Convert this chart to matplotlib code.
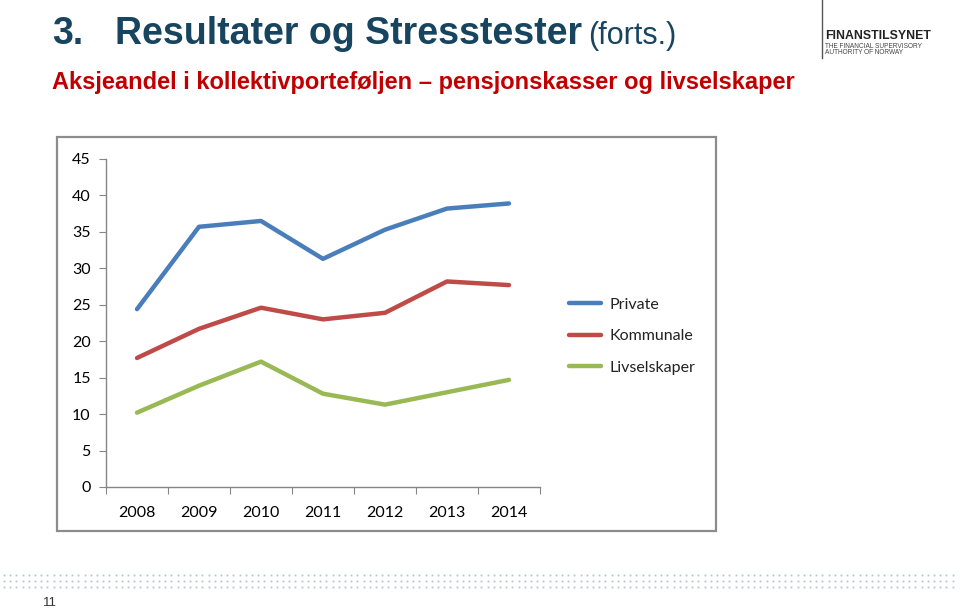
import matplotlib
matplotlib.use("Agg")
import matplotlib.pyplot as plt
from matplotlib.patches import Rectangle
from matplotlib.lines import Line2D

# === DATA ===
years = ["2008", "2009", "2010", "2011", "2012", "2013", "2014"]
private = [24.4, 35.7, 36.5, 31.3, 35.3, 38.2, 38.9]
kommunale = [17.7, 21.7, 24.6, 23.0, 23.9, 28.2, 27.7]
livselskaper = [10.2, 13.9, 17.2, 12.8, 11.3, 13.0, 14.7]
series_names = ["Private", "Kommunale", "Livselskaper"]
y_ticks = [0, 5, 10, 15, 20, 25, 30, 35, 40, 45]

colors = ["#4A7EBB", "#BE4B48", "#98B954"]
W, H = 960, 609

fig = plt.figure(figsize=(W / 100, H / 100), dpi=100)
fig.patch.set_facecolor("white")

def fx(px):
    return px / W

def fy(py):
    return 1 - py / H

# === HEADER ===
title_font = ["Liberation Sans", "DejaVu Sans"]
fig.text(fx(52), fy(34), "3.", fontsize=27, fontweight="bold", color="#17445E",
         family=title_font, va="center")
fig.text(fx(115), fy(34), "Resultater og Stresstester", fontsize=27, fontweight="bold",
         color="#17445E", family=title_font, va="center")
fig.text(fx(588), fy(36), "(forts.)", fontsize=22, color="#17445E",
         family=title_font, va="center")
fig.text(fx(52), fy(83), "Aksjeandel i kollektivporteføljen \u2013 pensjonskasser og livselskaper",
         fontsize=17, fontweight="bold", color="#C00000", family=title_font, va="center")

# logo
fig.add_artist(Line2D([fx(822), fx(822)], [fy(0), fy(58)], color="#555555", lw=1))
fig.text(fx(825), fy(36), "FINANSTILSYNET", fontsize=8.8, fontweight="bold", color="#222222",
         family=["Liberation Sans", "DejaVu Sans"], va="center")
fig.text(fx(825), fy(46), "THE FINANCIAL SUPERVISORY", fontsize=4.7, color="#444444",
         family=["Liberation Sans", "DejaVu Sans"], va="center")
fig.text(fx(825), fy(53), "AUTHORITY OF NORWAY", fontsize=4.7, color="#444444",
         family=["Liberation Sans", "DejaVu Sans"], va="center")

# chart frame
fig.add_artist(Rectangle((fx(57), fy(531)), fx(716 - 57), (531 - 137) / H,
                         fill=False, edgecolor="#8C8C8C", lw=1.6))

# === CHART ===
ax = fig.add_axes([fx(106), fy(487), fx(540 - 106), (487 - 159) / H])
x = range(len(years))
for vals, name, c in zip([private, kommunale, livselskaper], series_names, colors):
    ax.plot(x, vals, color=c, lw=3.2, label=name, solid_capstyle="round")

ax.set_xlim(-0.5, len(years) - 0.5)
ax.set_ylim(0, 45)
ax.set_yticks(y_ticks)
ax.set_xticks([i - 0.5 for i in range(len(years) + 1)])
ax.set_xticklabels([])
ax.set_xticks(list(x), minor=True)
ax.set_xticklabels(years, minor=True)
ax.tick_params(axis="x", which="major", length=5, color="#868686", direction="out")
ax.tick_params(axis="x", which="minor", length=0, pad=14, labelsize=11.5)
ax.tick_params(axis="y", length=5, color="#868686", direction="out", labelsize=11.5, pad=6)
for lab in ax.get_xticklabels(minor=True) + ax.get_yticklabels():
    lab.set_family(["Lato", "DejaVu Sans"])
for s in ["top", "right"]:
    ax.spines[s].set_visible(False)
for s in ["left", "bottom"]:
    ax.spines[s].set_color("#868686")
    ax.spines[s].set_linewidth(1)

leg = fig.legend(loc="upper left", bbox_to_anchor=(fx(555), fy(283)), frameon=False,
                 handlelength=2.0, handletextpad=0.5, labelspacing=1.1,
                 prop={"family": ["Lato", "DejaVu Sans"], "size": 11.5})
for t in leg.get_texts():
    t.set_color("#222222")

# === FOOTER ===
for py in [575, 581, 587]:
    xs = [fx(4 + i * 6.2) for i in range(154)]
    fig.add_artist(Line2D(xs, [fy(py)] * len(xs), ls="none", marker="s", ms=1.3,
                          mew=0, color="#B4C6D2"))
fig.text(fx(43), fy(603), "11", fontsize=9.5, color="#333333",
         family=["Liberation Sans", "DejaVu Sans"], va="center")

fig.savefig("out.png", dpi=100)
